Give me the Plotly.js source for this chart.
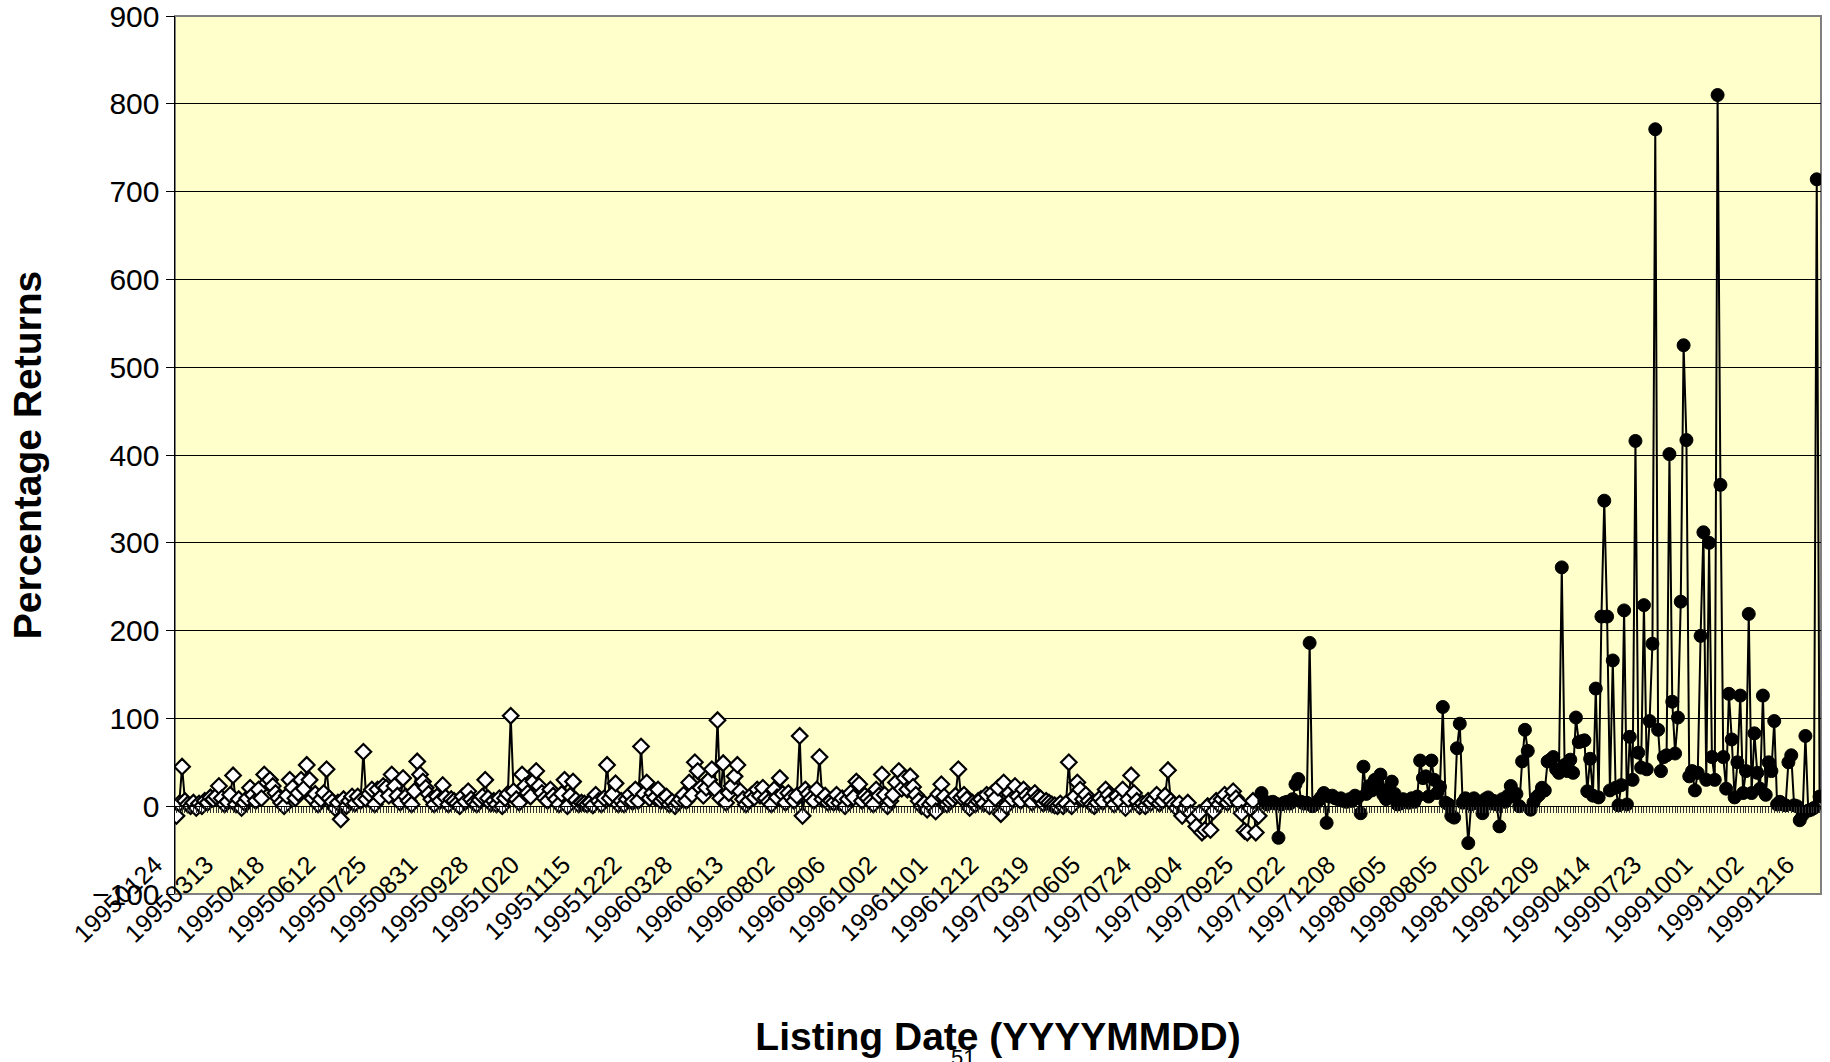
<!DOCTYPE html>
<html>
<head>
<meta charset="utf-8">
<script src="https://cdn.plot.ly/plotly-3.0.1.min.js"></script>
<style>
  html, body { margin: 0; padding: 0; background: #ffffff; }
  #chart { width: 1830px; height: 1062px; }
</style>
</head>
<body>
<div id="chart"></div>
<script>
// ---------------- DATA ----------------
// Listing-date tick labels (one label every LABEL_EVERY listings)
const tickLabels = [
  "19950124","19950313","19950418","19950612","19950725","19950831","19950928",
  "19951020","19951115","19951222","19960328","19960613","19960802","19960906",
  "19961002","19961101","19961212","19970319","19970605","19970724","19970904",
  "19970925","19971022","19971208","19980605","19980805","19981002","19981209",
  "19990414","19990723","19991001","19991102","19991216"
];
const LABEL_EVERY = 18;

// Percentage returns, earlier listings (open diamonds)
const earlyReturns = [
  -11, 3, 45, 6, 2, 0, 4, -2, 3, 0, 6, 4, 10, 8, 11, 23, 9, 2, 5, 13,
  35, 2, 8, -2, 4, 9, 21, 13, 6, 19, 9, 36, 27, 30, 23, 15, 9, 4, 0, 12,
  30, 21, 9, 15, 30, 20, 47, 30, 9, 14, 2, 8, 15, 42, 9, 5, -2, 4, -15, 8,
  0, 6, 11, 3, 11, 6, 62, 8, 14, 19, 2, 19, 10, 23, 21, 12, 36, 23, 12, 4,
  32, 11, 6, 2, 17, 51, 36, 28, 21, 14, 8, 2, 11, 6, 24, 10, 2, 8, 6, 3,
  0, 11, 5, 17, 8, 4, 2, 7, 11, 30, 9, 3, 6, 2, 9, 0, 9, 14, 103, 17,
  8, 4, 36, 23, 15, 11, 28, 40, 23, 15, 9, 6, 19, 12, 8, 2, 14, 30, 0, 12,
  28, 7, 2, 4, 3, 2, 4, 1, 13, 6, 2, 9, 47, 9, 14, 26, 2, 6, 2, 8,
  13, 5, 19, 6, 68, 14, 27, 9, 15, 10, 19, 6, 9, 11, 2, 5, 0, 4, 8, 13,
  6, 27, 13, 50, 40, 21, 12, 21, 30, 42, 20, 98, 9, 49, 4, 15, 23, 34, 47, 17,
  8, 2, 6, 13, 10, 19, 12, 21, 9, 5, 2, 19, 10, 32, 14, 4, 15, 10, 6, 12,
  80, -11, 19, 14, 9, 6, 19, 56, 8, 12, 4, 6, 4, 13, 4, 9, 0, 8, 15, 10,
  28, 25, 6, 12, 9, 5, 2, 19, 12, 36, 13, 0, 6, 13, 27, 40, 20, 32, 19, 34,
  22, 13, 6, 0, 3, -4, 2, 6, -6, 14, 25, 11, 2, 5, 8, 12, 42, 10, 13, 8,
  -2, 4, 2, 6, 8, 3, 13, 0, 15, 9, 21, -9, 27, 0, 15, 8, 23, 11, 6, 19,
  12, 8, 4, 15, 10, 9, 3, 6, 4, 2, 1, 0, 3, 0, 3, 50, 0, 11, 27, 19,
  8, 13, 6, 2, 0, 4, 9, 5, 19, 13, 7, 2, 11, 6, 19, -2, 8, 35, 15, 6,
  0, 3, 0, 6, 4, 8, 13, 3, 6, 12, 41, 6, 2, -2, 3, -11, -2, 4, -8, -15,
  -23, -8, -30, -27, 0, -27, -6, 6, 2, 8, 13, 4, 8, 17, 9, 4, -8, -28, -30, -2,
  6, -30, -11
];

// Percentage returns, later listings (filled circles)
const laterReturns = [
  15, 6, 2, 4, 5, 3, -36, 2, 4, 5, 3, 8, 25, 31, 5, 3, 4, 186, 0, 2,
  6, 10, 15, -19, 11, 12, 9, 8, 9, 6, 5, 8, 6, 12, 10, -8, 45, 14, 23, 18,
  30, 26, 36, 13, 8, 20, 28, 14, 2, 3, 8, 6, 4, 9, 5, 11, 52, 32, 34, 11,
  52, 30, 15, 22, 113, 4, 2, -11, -13, 66, 94, 4, 9, -42, 2, 9, 5, 2, -8, 8,
  10, 3, 6, 2, -23, 8, 5, 12, 23, 11, 14, 0, 51, 87, 63, -4, 4, 10, 13, 21,
  18, 51, 53, 56, 42, 38, 272, 47, 40, 53, 38, 101, 73, 74, 75, 17, 54, 12, 134, 10,
  216, 348, 216, 18, 166, 21, 1, 24, 223, 2, 79, 30, 416, 61, 44, 229, 42, 97, 185, 771,
  87, 40, 56, 58, 401, 119, 60, 101, 233, 525, 417, 34, 40, 18, 38, 194, 312, 30, 300, 56,
  30, 810, 366, 56, 20, 128, 76, 10, 50, 126, 15, 40, 219, 15, 83, 38, 20, 126, 13, 50,
  40, 97, 2, 5, 2, 1, 50, 58, 1, 0, -16, -10, 80, -5, -4, -2, 714, 11
];

// ---------------- BUILD ----------------
const allReturns = earlyReturns.concat(laterReturns);
const nAll = allReturns.length;
const xAll = allReturns.map((_, i) => i);
const xEarly = earlyReturns.map((_, i) => i);
const xLater = laterReturns.map((_, i) => i + earlyReturns.length);
const tickVals = tickLabels.map((_, i) => i * LABEL_EVERY);

const FONT = '"Liberation Sans", Arial, Helvetica, sans-serif';

const traces = [
  { x: xAll, y: allReturns, type: 'scatter', mode: 'lines',
    line: { color: '#000000', width: 2 }, hoverinfo: 'skip', showlegend: false },
  { x: xEarly, y: earlyReturns, type: 'scatter', mode: 'markers',
    marker: { symbol: 'diamond', size: 12, color: '#ffffff', line: { color: '#000000', width: 2.2 } },
    showlegend: false },
  { x: xLater, y: laterReturns, type: 'scatter', mode: 'markers',
    marker: { symbol: 'circle', size: 13, color: '#000000', line: { color: '#000000', width: 1 } },
    showlegend: false }
];

const layout = {
  width: 1830, height: 1062,
  margin: { l: 175, r: 9, t: 16, b: 168, pad: 0 },
  paper_bgcolor: '#ffffff',
  plot_bgcolor: '#FFFFCC',
  font: { family: FONT, color: '#000000' },
  showlegend: false,
  xaxis: {
    range: [-0.5, nAll - 0.5],
    anchor: 'free', position: 0.1,
    showgrid: false, zeroline: false,
    showline: true, linecolor: '#000000', linewidth: 1,
    tickmode: 'array', tickvals: tickVals, ticktext: tickLabels,
    ticks: 'outside', ticklen: 6, tickcolor: '#333333', tickwidth: 1,
    minor: { dtick: 1, tick0: 0, ticks: 'outside', ticklen: 6, tickcolor: '#333333', tickwidth: 1, showgrid: false },
    tickangle: -44,
    tickfont: { family: FONT, size: 25, color: '#000000' },
    ticklabelstandoff: 27,
    ticklabelshift: -21,
    ticklabeloverflow: 'allow',
    automargin: false,
    title: { text: 'Listing Date (YYYYMMDD)', font: { family: FONT, size: 39, color: '#000000', weight: 'bold' }, standoff: 76 }
  },
  yaxis: {
    range: [-100, 900], dtick: 100, tick0: 0,
    showgrid: true, gridcolor: '#000000', gridwidth: 1,
    zeroline: false,
    showline: true, linecolor: '#000000', linewidth: 1.5,
    ticks: 'outside', ticklen: 8, tickcolor: '#000000', tickwidth: 1,
    tickfont: { family: FONT, size: 30, color: '#000000' },
    ticklabeloverflow: 'allow',
    automargin: false,
    title: { text: 'Percentage Returns', font: { family: FONT, size: 39, color: '#000000', weight: 'bold' }, standoff: 38 }
  },
  shapes: [
    { type: 'rect', xref: 'paper', yref: 'paper', x0: 0, x1: 1, y0: 0, y1: 1,
      line: { color: '#808080', width: 2 }, fillcolor: 'rgba(0,0,0,0)', layer: 'between' }
  ],
  annotations: [
    { text: '51', xref: 'paper', yref: 'paper', x: (963 - 175) / 1646, y: (894 - 1043) / 878,
      xanchor: 'center', yanchor: 'top', showarrow: false,
      font: { family: FONT, size: 22, color: '#000000' } }
  ]
};

Plotly.newPlot('chart', traces, layout, { staticPlot: true, displayModeBar: false });
</script>
</body>
</html>
